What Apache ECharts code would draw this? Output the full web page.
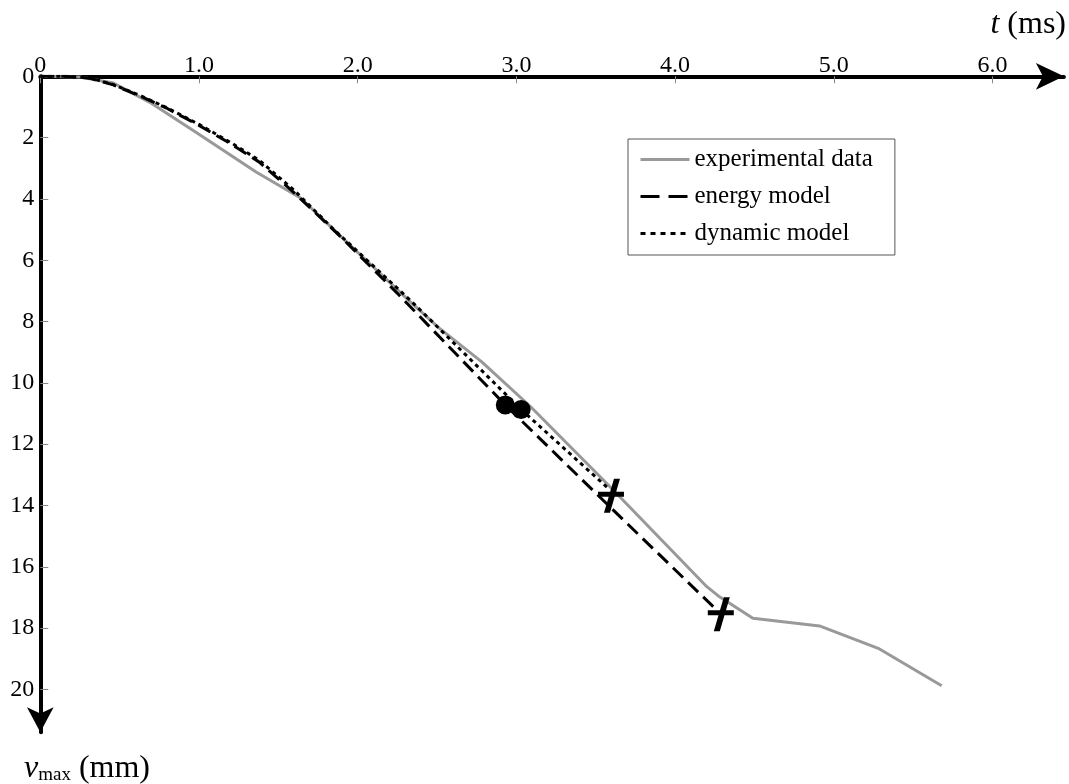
<!DOCTYPE html>
<html>
<head>
<meta charset="utf-8">
<script src="https://cdn.jsdelivr.net/npm/echarts@6/dist/echarts.min.js"></script>
<style>
html,body{margin:0;padding:0;background:#fff;}
#chart{width:1069px;height:784px;}
</style>
</head>
<body>
<div id="chart"></div>
<script>
// ---- data ----
const xTicks = [0, 1, 2, 3, 4, 5, 6];
const yTicks = [0, 2, 4, 6, 8, 10, 12, 14, 16, 18, 20];

const expT = [0, 0.25, 0.46, 0.69, 0.99, 1.36, 1.64, 1.95, 2.33, 2.51, 2.78, 3.09, 3.59, 4.20, 4.28, 4.49, 4.91, 5.28, 5.68];
const expV = [0, 0.02, 0.22, 0.85, 1.86, 3.12, 3.97, 5.50, 7.35, 8.20, 9.31, 10.78, 13.39, 16.65, 16.98, 17.68, 17.93, 18.66, 19.88];

const energyT = [0, 0.15, 0.31, 0.46, 0.63, 0.80, 1.00, 1.20, 1.38, 1.60, 1.89, 2.25, 2.93, 3.59, 4.29];
const energyV = [0, 0.0, 0.06, 0.28, 0.65, 1.05, 1.60, 2.20, 2.80, 3.80, 5.22, 7.08, 10.72, 14.05, 17.55];

const dynT = [0, 0.15, 0.31, 0.46, 0.63, 0.80, 1.00, 1.20, 1.38, 1.60, 1.84, 2.08, 2.33, 2.48, 3.03, 3.57];
const dynV = [0, 0.0, 0.05, 0.27, 0.63, 1.03, 1.57, 2.16, 2.74, 3.72, 4.95, 6.10, 7.30, 8.06, 10.87, 13.40];

const dotT = [2.93, 3.03];
const dotV = [10.72, 10.87];

const crossT = [3.596, 4.288];
const crossV = [13.68, 17.55];

const seriesNames = ['experimental data', 'energy model', 'dynamic model'];

// ---- chart ----
const FONT = '"Liberation Serif", "Times New Roman", serif';
const pairs = (a, b) => a.map((v, i) => [v, b[i]]);
const crossPath = 'path://M0,13L26,13L26,18L0,18Z M16,0L22,0L12,34L6,34Z';
const NOFILL = 'rgba(0,0,0,0)';

const chart = echarts.init(document.getElementById('chart'));
chart.setOption({
  animation: false,
  backgroundColor: '#fff',
  grid: { left: 40.3, top: 76.3, width: 1023.6, height: 656, containLabel: false, outerBoundsMode: 'none' },
  legend: {
    data: [
      { name: seriesNames[0], lineStyle: { width: 3, color: '#999', type: 'solid' } },
      { name: seriesNames[1], lineStyle: { width: 3, color: '#000', type: [19, 9] } },
      { name: seriesNames[2], lineStyle: { width: 3, color: '#000', type: [5, 5] } }
    ],
    orient: 'vertical',
    left: 628, top: 139,
    padding: [8, 22, 9, 11],
    itemGap: 12,
    itemWidth: 49,
    itemHeight: 25,
    borderColor: '#555',
    borderWidth: 1,
    itemStyle: { opacity: 0 },
    lineStyle: { width: 3 },
    textStyle: { fontFamily: FONT, fontSize: 25, color: '#000', lineHeight: 25 }
  },
  xAxis: {
    type: 'value', position: 'top', min: 0, max: 6.45,
    axisLine: { show: true, onZero: false, symbol: ['none', 'arrow'], symbolSize: [20, 28],
      lineStyle: { color: '#000', width: 4 } },
    axisTick: { show: true, inside: true, length: 7, customValues: xTicks,
      lineStyle: { color: '#888', width: 1 } },
    axisLabel: { customValues: xTicks, margin: -1, fontFamily: FONT, fontSize: 24, color: '#000',
      formatter: v => (v === 0 ? '0' : v.toFixed(1)) },
    splitLine: { show: false }
  },
  yAxis: {
    type: 'value', inverse: true, min: 0, max: 21.4,
    axisLine: { show: true, onZero: false, symbol: ['arrow', 'none'], symbolSize: [20, 25],
      lineStyle: { color: '#000', width: 4 } },
    axisTick: { show: true, inside: true, length: 8, customValues: yTicks,
      lineStyle: { color: '#888', width: 1 } },
    axisLabel: { customValues: yTicks, margin: 6, fontFamily: FONT, fontSize: 24, color: '#000' },
    splitLine: { show: false }
  },
  graphic: [
    { type: 'text', x: 1066, y: 25,
      style: { text: '{i|t} (ms)', align: 'right', verticalAlign: 'middle',
        font: '32px ' + FONT, fill: '#000',
        rich: { i: { fontStyle: 'italic', fontFamily: FONT, fontSize: 32 } } } },
    { type: 'text', x: 24, y: 769,
      style: { text: '{i|v}{s|max} (mm)', align: 'left', verticalAlign: 'middle',
        font: '32px ' + FONT, fill: '#000',
        rich: { i: { fontStyle: 'italic', fontFamily: FONT, fontSize: 32 },
                s: { fontFamily: FONT, fontSize: 19, padding: [12, 0, 0, 0] } } } }
  ],
  series: [
    { name: seriesNames[0], type: 'line', data: pairs(expT, expV), symbol: 'none',
      lineStyle: { color: '#999', width: 3 }, itemStyle: { color: NOFILL }, z: 2 },
    { name: seriesNames[1], type: 'line', data: pairs(energyT, energyV), symbol: 'none',
      lineStyle: { color: '#000', width: 3, type: [14, 7] }, itemStyle: { color: NOFILL }, z: 3 },
    { name: seriesNames[2], type: 'line', data: pairs(dynT, dynV), symbol: 'none',
      lineStyle: { color: '#000', width: 3, type: [4, 4] }, itemStyle: { color: NOFILL }, z: 3 },
    { name: 'dots', type: 'scatter', data: pairs(dotT, dotV), symbol: 'circle', symbolSize: 19,
      itemStyle: { color: '#000', opacity: 1 }, z: 5 },
    { name: 'crosses', type: 'scatter', data: pairs(crossT, crossV), symbol: crossPath, symbolSize: [26, 34],
      itemStyle: { color: '#000', opacity: 1 }, z: 5 }
  ]
});
</script>
</body>
</html>
